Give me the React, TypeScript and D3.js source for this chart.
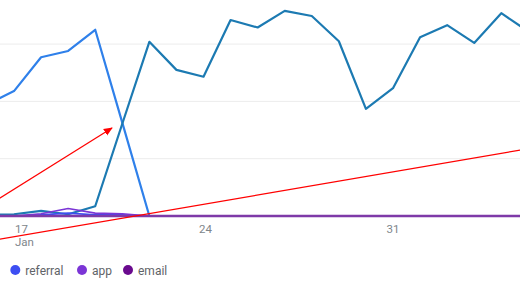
import React from 'react';
import * as d3 from 'd3';

const days = [16, 17, 18, 19, 20, 21, 22, 23, 24, 25, 26, 27, 28, 29, 30, 31, 32, 33, 34, 35, 36];
const organicValues = [19.5, 21.8, 27.7, 28.8, 32.5, 16.3, 0, 0, 0, 0, 0, 0, 0, 0, 0, 0, 0, 0, 0, 0, 0];
const directValues = [0.2, 0.3, 0.9, 0.3, 1.7, 16.1, 30.4, 25.5, 24.3, 34.2, 32.9, 35.8, 34.9, 30.5, 18.7, 22.3, 31.2, 33.3, 30.2, 35.4, 32.2];
const referralValues = [0, 0, 0.2, 0.5, 0.2, 0.2, 0, 0, 0, 0, 0, 0, 0, 0, 0, 0, 0, 0, 0, 0, 0];
const appValues = [0, 0, 0.4, 1.3, 0.5, 0.4, 0, 0, 0, 0, 0, 0, 0, 0, 0, 0, 0, 0, 0, 0, 0];
const emailValues = [0, 0, 0, 0, 0, 0, 0, 0, 0, 0, 0, 0, 0, 0, 0, 0, 0, 0, 0, 0, 0];

const tickDays = [17, 24, 31];
const tickLabels = ['17', '24', '31'];
const tickSubLabels = ['Jan', '', ''];
const gridValues = [10, 20, 30];

const legendNames = ['referral', 'app', 'email'];
const legendColors = ['#3d4ef2', '#7b35d6', '#6a0a8e'];

// hand-drawn red annotations, in data units [day, value]
const arrowStart = [16.3, 2.6];
const arrowEnd = [20.62, 15.36];
const slashStart = [16.3, -4.18];
const slashEnd = [36, 11.74];

export default function App() {
  const W = 520;
  const H = 293;
  const x = d3.scaleLinear().domain([17, 31]).range([14, 393]);
  const y = d3.scaleLinear().domain([0, 10]).range([216, 158.7]);

  const line = d3
    .line<number>()
    .x((_, i) => x(days[i]))
    .y((v) => y(v));

  const series = [
    { values: organicValues, color: '#2f80ea', width: 2.2 },
    { values: directValues, color: '#1c7ab2', width: 2.2 },
    { values: referralValues, color: legendColors[0], width: 1.6 },
    { values: appValues, color: legendColors[1], width: 1.6 },
    { values: emailValues, color: '#7e3aa8', width: 2.6 },
  ];

  const legendX = [15.3, 82, 128];

  return (
    <svg
      width={W}
      height={H}
      style={{ position: 'absolute', left: 0, top: 0, fontFamily: 'Roboto, sans-serif' }}
    >
      <defs>
        <marker
          id="arrowhead"
          viewBox="0 0 10 10"
          refX="9"
          refY="5"
          markerWidth="9"
          markerHeight="9"
          markerUnits="userSpaceOnUse"
          orient="auto"
        >
          <path d="M0,0.8 L10,5 L0,9.2 Z" fill="#ff0000" />
        </marker>
      </defs>
      <rect x={0} y={0} width={W} height={H} fill="#ffffff" />
      {gridValues.map((g) => (
        <line key={g} x1={0} x2={W} y1={y(g)} y2={y(g)} stroke="#ececec" strokeWidth={1} />
      ))}
      {series.map((s, i) => (
        <path
          key={i}
          d={line(s.values) || ''}
          fill="none"
          stroke={s.color}
          strokeWidth={s.width}
          strokeLinejoin="round"
        />
      ))}
      {tickDays.map((d, i) => (
        <g key={d} fill="#80868b" fontSize={11.5}>
          <text
            x={i === 0 ? x(d) + 1 : x(d) + (i === 1 ? 2 : 0)}
            y={233}
            textAnchor={i === 0 ? 'start' : 'middle'}
          >
            {tickLabels[i]}
          </text>
          {tickSubLabels[i] && (
            <text x={x(d) + 1} y={246} textAnchor="start">
              {tickSubLabels[i]}
            </text>
          )}
        </g>
      ))}
      <line
        x1={x(slashStart[0])}
        y1={y(slashStart[1])}
        x2={x(slashEnd[0])}
        y2={y(slashEnd[1])}
        stroke="#ff0000"
        strokeWidth={1.2}
      />
      <line
        x1={x(arrowStart[0])}
        y1={y(arrowStart[1])}
        x2={x(arrowEnd[0])}
        y2={y(arrowEnd[1])}
        stroke="#ff0000"
        strokeWidth={1.2}
        markerEnd="url(#arrowhead)"
      />
      {legendNames.map((n, i) => (
        <g key={n}>
          <circle cx={legendX[i]} cy={270} r={5} fill={legendColors[i]} />
          <text x={legendX[i] + 10} y={274.5} fontSize={12} fill="#5f6368">
            {n}
          </text>
        </g>
      ))}
    </svg>
  );
}
